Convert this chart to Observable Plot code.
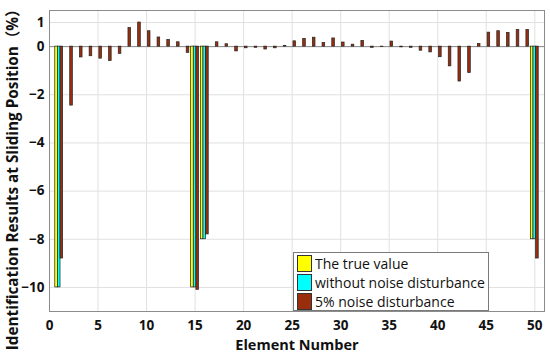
<!DOCTYPE html>
<html>
<head>
<meta charset="utf-8">
<script src="https://cdn.jsdelivr.net/npm/d3@7"></script>
<script src="https://cdn.jsdelivr.net/npm/@observablehq/plot@0.6"></script>
<style>
  html, body { margin: 0; padding: 0; background: #fff; }
  #wrap { position: relative; width: 550px; height: 355px; }
  #wrap svg { display: block; }
  g[aria-label="x-axis label"] text { font-size: 14.5px; }
  #legend {
    position: absolute; left: 293px; top: 252px; width: 196px; height: 59px;
    box-sizing: border-box; border: 1px solid #7a7a7a; background: #fff;
    font-family: 'Open Sans', sans-serif; font-size: 14px; color: #111;
    padding: 1px 0 0 3px;
  }
  .row { display: flex; align-items: center; height: 19px; }
  .sw { width: 15px; height: 17px; box-sizing: border-box; border: 1px solid #333; margin-right: 3px; }
</style>
</head>
<body>
<div id="wrap"></div>
<script>
const elements = [1,2,3,4,5,6,7,8,9,10,11,12,13,14,15,16,17,18,19,20,21,22,23,24,25,26,27,28,29,30,31,32,33,34,35,36,37,38,39,40,41,42,43,44,45,46,47,48,49,50];
const trueValue = [-10,0,0,0,0,0,0,0,0,0,0,0,0,0,-10,-8,0,0,0,0,0,0,0,0,0,0,0,0,0,0,0,0,0,0,0,0,0,0,0,0,0,0,0,0,0,0,0,0,0,-8];
const withoutNoise = [-10,0,0,0,0,0,0,0,0,0,0,0,0,0,-10,-8,0,0,0,0,0,0,0,0,0,0,0,0,0,0,0,0,0,0,0,0,0,0,0,0,0,0,0,0,0,0,0,0,0,-8];
const noise5 = [-8.8,-2.45,-0.45,-0.4,-0.5,-0.6,-0.3,0.77,1.0,0.64,0.38,0.28,0.18,-0.26,-10.1,-7.8,0.18,0.1,-0.2,-0.07,-0.05,-0.12,-0.07,0.03,0.22,0.32,0.37,0.15,0.34,0.17,0.08,0.24,-0.05,-0.02,0.21,-0.03,-0.05,-0.17,-0.24,-0.44,-0.82,-1.45,-1.1,0.11,0.58,0.64,0.57,0.69,0.69,-8.8];
const seriesNames = ["The true value", "without noise disturbance", "5% noise disturbance"];
const seriesColors = ["#ffff00", "#00ffff", "#9a2e0c"];
const xTicks = [0,5,10,15,20,25,30,35,40,45,50];
const yTicks = [1,0,-2,-4,-6,-8,-10];
const xLabel = "Element Number";
const yLabel = "Identification Results at Sliding Position（%）";

const seriesValues = [trueValue, withoutNoise, noise5];
const offsets = [-0.27, 0, 0.27];
const barW = 0.27;
const rows = [];
seriesValues.forEach((vals, s) => {
  vals.forEach((v, i) => {
    if (v !== 0) rows.push({element: elements[i], value: v, series: seriesNames[s], s});
  });
});

const chart = Plot.plot({
  width: 550, height: 355,
  marginLeft: 49, marginRight: 6, marginTop: 10, marginBottom: 44,
  style: {fontFamily: "'Open Sans', sans-serif", fontSize: "13.5px", fontWeight: "bold", color: "#111", background: "#fff"},
  x: {domain: [0, 51]},
  y: {domain: [-11, 1.5]},
  color: {domain: seriesNames, range: seriesColors},
  marks: [
    Plot.gridX(xTicks, {stroke: "#e0e0e0", strokeOpacity: 1}),
    Plot.gridY(yTicks, {stroke: "#e0e0e0", strokeOpacity: 1}),
    Plot.ruleY([0], {stroke: "#8a8a8a"}),
    Plot.rectY(rows, {
      x1: d => d.element + offsets[d.s] - barW / 2,
      x2: d => d.element + offsets[d.s] + barW / 2,
      y1: 0, y2: "value",
      fill: "series", stroke: "#222", strokeWidth: 0.7
    }),
    Plot.frame({stroke: "#8c8c8c"}),
    Plot.axisX(xTicks, {tickSize: 0, tickPadding: 9, label: xLabel, labelAnchor: "center", labelOffset: 38, labelArrow: "none"}),
    Plot.axisY(yTicks, {tickSize: 0, tickPadding: 5, label: null})
  ]
});
document.getElementById("wrap").appendChild(chart);

// y-axis title, centred where the reference places it
d3.select(chart).append("text")
  .attr("transform", "translate(18,176) rotate(-90)")
  .attr("text-anchor", "middle")
  .attr("font-family", "'Open Sans', 'Noto Sans CJK SC', sans-serif")
  .attr("font-weight", "bold")
  .attr("font-size", "15.3px")
  .attr("fill", "#111")
  .text(yLabel);

const legend = document.createElement("div");
legend.id = "legend";
seriesNames.forEach((name, i) => {
  const row = document.createElement("div");
  row.className = "row";
  const sw = document.createElement("div");
  sw.className = "sw";
  sw.style.background = seriesColors[i];
  const t = document.createElement("span");
  t.textContent = name;
  row.appendChild(sw); row.appendChild(t);
  legend.appendChild(row);
});
document.getElementById("wrap").appendChild(legend);
</script>
</body>
</html>
